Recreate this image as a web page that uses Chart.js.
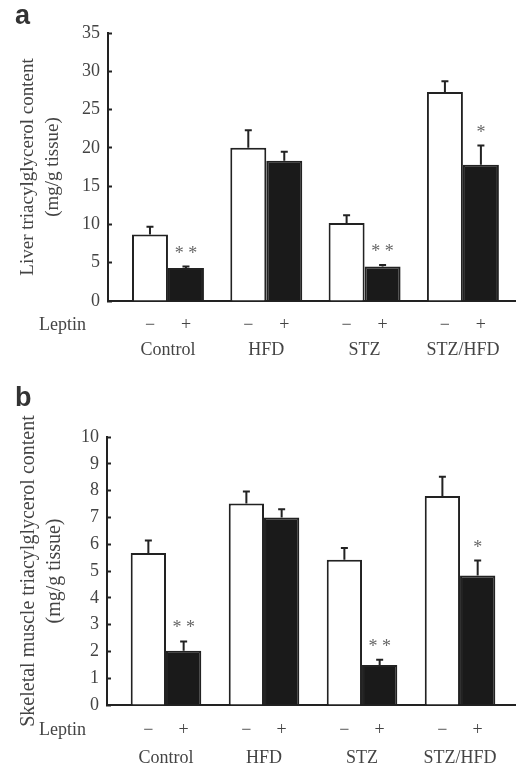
<!doctype html>
<html lang="en">
  <head>
    <meta charset="utf-8">
    <title>Liver and skeletal muscle triacylglycerol content</title>
    <script src="https://cdn.jsdelivr.net/npm/chart.js"></script>
    <style>
      body {
        margin: 0;
        background: #fff;
      }
      .panel {
        position: relative;
        width: 516px;
      }
      .letter {
        position: absolute;
        left: 15px;
        font: bold 27px "Liberation Sans", Arial, sans-serif;
        color: #333;
      }
      canvas {
        display: block;
      }
    </style>
  </head>
  <body>

    <!-- Panel a: liver -->
    <div class="panel" style="height:370px">
      <div class="letter" style="top:0px">a</div>
      <canvas id="liverChart" width="516" height="370"></canvas>
    </div>

    <!-- Panel b: skeletal muscle -->
    <div class="panel" style="height:394px">
      <div class="letter" style="top:12px">b</div>
      <canvas id="muscleChart" width="516" height="394"></canvas>
    </div>

    <script>
      const groups = ['Control', 'HFD', 'STZ', 'STZ/HFD'];

      // Liver triacylglycerol (mg/g tissue), mean and SEM
      const liverNoLeptin = [8.7, 20.0, 10.2, 27.3];
      const liverNoLeptinSem = [1.0, 2.3, 1.0, 1.4];
      const liverLeptin = [4.3, 18.3, 4.5, 17.8];
      const liverLeptinSem = [0.2, 1.2, 0.2, 2.5];
      const liverSig = ['**', '', '**', '*'];

      // Skeletal muscle triacylglycerol (mg/g tissue), mean and SEM
      const muscleNoLeptin = [5.67, 7.52, 5.42, 7.8];
      const muscleNoLeptinSem = [0.47, 0.45, 0.44, 0.72];
      const muscleLeptin = [2.02, 7.0, 1.49, 4.83];
      const muscleLeptinSem = [0.35, 0.3, 0.2, 0.56];
      const muscleSig = ['**', '', '**', '*'];

      const ink = '#222';
      const textColor = '#444';
      const serif = 'Liberation Serif, Times New Roman, serif';

      // error bars, significance marks and the Leptin -/+ row
      const errorBars = {
        id: 'errorBars',
        afterDatasetsDraw(chart) {
          const ctx = chart.ctx;
          const y = chart.scales.y;
          const bottom = chart.chartArea.bottom;
          ctx.save();
          ctx.strokeStyle = ink;
          ctx.lineWidth = 2;
          ctx.font = '18px ' + serif;
          chart.data.datasets.forEach((ds, d) => {
            chart.getDatasetMeta(d).data.forEach((bar, i) => {
              const top = y.getPixelForValue(ds.data[i].y + ds.sem[i]);
              ctx.beginPath();
              ctx.moveTo(bar.x, bar.y);
              ctx.lineTo(bar.x, top);
              ctx.moveTo(bar.x - 3.5, top);
              ctx.lineTo(bar.x + 3.5, top);
              ctx.stroke();

              ctx.fillStyle = '#666';
              ctx.textAlign = 'center';
              ctx.textBaseline = 'alphabetic';
              if (ds.sig && ds.sig[i]) {
                ctx.fillText(ds.sig[i].split('').join(' '), bar.x, top - 8);
              }

              ctx.fillStyle = textColor;
              ctx.textBaseline = 'middle';
              ctx.fillText(d === 0 ? '\u2212' : '+', bar.x, bottom + chart.options.leptinGap);
            });
          });
          ctx.textAlign = 'left';
          ctx.fillText('Leptin', 39, bottom + chart.options.leptinGap);
          ctx.restore();
        }
      };

      function makePanel(id, cfg) {
        const ctx = document.getElementById(id).getContext('2d');
        return new Chart(ctx, {
          type: 'bar',
          data: {
            datasets: [{
              data: cfg.minus.map((v, i) => ({ x: i + 1, y: v })),
              sem: cfg.minusSem,
              backgroundColor: '#fff',
              borderColor: ink,
              borderWidth: 2
            }, {
              data: cfg.plus.map((v, i) => ({ x: i + 1, y: v })),
              sem: cfg.plusSem,
              sig: cfg.sig,
              backgroundColor: '#1a1a1a',
              borderColor: ink,
              borderWidth: 2
            }]
          },
          options: {
            responsive: false,
            animation: false,
            events: [],
            leptinGap: cfg.leptinGap,
            categoryPercentage: cfg.catPct,
            barPercentage: 1,
            layout: { padding: { top: cfg.top, right: 0, left: 0, bottom: 0 } },
            plugins: {
              legend: { display: false },
              tooltip: { enabled: false }
            },
            scales: {
              x: {
                type: 'linear',
                min: cfg.xMin,
                max: cfg.xMax,
                offset: false,
                grid: { display: false, drawTicks: false },
                border: { color: ink, width: 2 },
                afterBuildTicks: s => { s.ticks = groups.map((g, i) => ({ value: i + 1 })); },
                afterFit: s => {
                  s.height = cfg.xHeight;
                  s.paddingLeft = 0;
                  s.paddingRight = 0;
                },
                ticks: {
                  autoSkip: false,
                  maxRotation: 0,
                  padding: cfg.groupPad,
                  color: textColor,
                  font: { family: serif, size: 18 },
                  callback: v => groups[v - 1]
                }
              },
              y: {
                min: 0,
                max: cfg.yMax,
                ticks: {
                  stepSize: cfg.step,
                  padding: 12,
                  color: textColor,
                  font: { family: serif, size: 18 }
                },
                grid: { drawOnChartArea: false, tickLength: -4, tickColor: ink, tickWidth: 2 },
                border: { color: ink, width: 2 },
                title: {
                  display: true,
                  text: cfg.title,
                  color: textColor,
                  font: { family: serif, size: cfg.titleSize, lineHeight: 1.3 },
                  padding: { top: 16, bottom: 0 }
                },
                afterFit: s => { s.width = cfg.yWidth; }
              }
            }
          },
          plugins: [errorBars]
        });
      }

      makePanel('liverChart', {
        minus: liverNoLeptin, minusSem: liverNoLeptinSem,
        plus: liverLeptin, plusSem: liverLeptinSem, sig: liverSig,
        yMax: 35, step: 5,
        title: ['Liver triacylglycerol content', '(mg/g tissue)'],
        titleSize: 19,
        top: 33, xHeight: 69, yWidth: 108,
        xMin: 0.39, xMax: 4.54, catPct: 0.732,
        leptinGap: 24, groupPad: 38
      });

      makePanel('muscleChart', {
        minus: muscleNoLeptin, minusSem: muscleNoLeptinSem,
        plus: muscleLeptin, plusSem: muscleLeptinSem, sig: muscleSig,
        yMax: 10, step: 1,
        title: ['Skeletal muscle triacylglycerol content', '(mg/g tissue)'],
        titleSize: 20,
        top: 67, xHeight: 59, yWidth: 107,
        xMin: 0.398, xMax: 4.571, catPct: 0.72,
        leptinGap: 25, groupPad: 42
      });
    </script>
  </body>
</html>
